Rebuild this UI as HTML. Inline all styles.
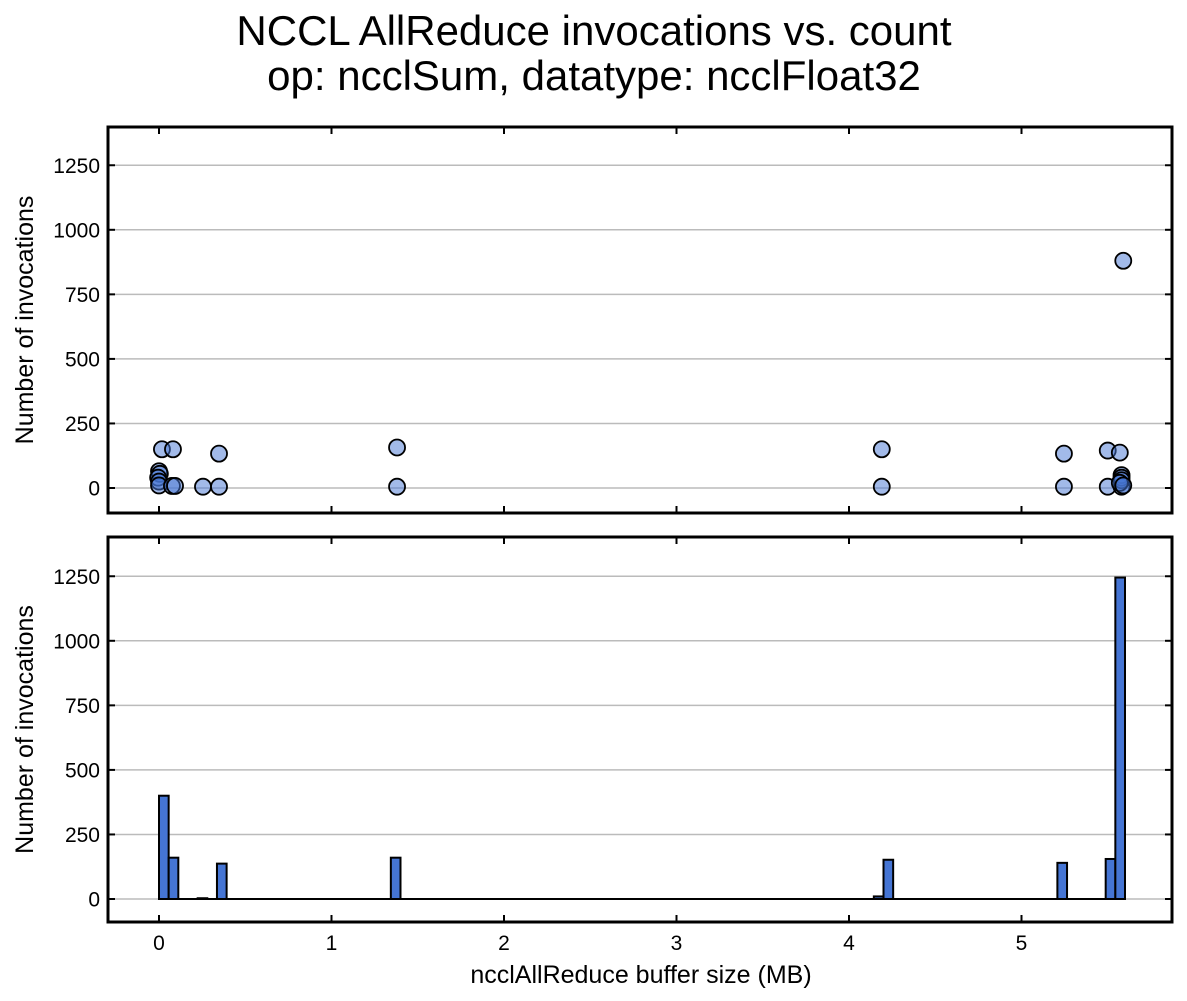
<!DOCTYPE html>
<html><head><meta charset="utf-8"><style>
body{margin:0;background:#fff;}
svg{display:block;font-family:"Liberation Sans",Arial,sans-serif;}
</style></head><body>
<svg id="c" width="1187" height="1001" viewBox="0 0 1187 1001">
<text x="594" y="45" font-size="42" text-anchor="middle">NCCL AllReduce invocations vs. count</text>
<text x="594" y="90" font-size="42" text-anchor="middle">op: ncclSum, datatype: ncclFloat32</text>
<g id="topPanel"></g>
<g id="botPanel"></g>
<text x="641" y="983" font-size="25" text-anchor="middle">ncclAllReduce buffer size (MB)</text>
</svg>
<script>
const xTicks=[0,1,2,3,4,5];
const yTicks=[0,250,500,750,1000,1250];
const scatterX=[0.017,0.081,0.348,0,0.005,-0.005,0,0,0.075,0.093,0.255,0.348,1.38,1.38,4.19,4.19,5.246,5.246,5.50,5.57,5.50,5.58,5.58,5.58,5.58,5.57,5.59,5.59];
const scatterY=[150,150,133,65,55,40,25,10,8,8,5,5,157,5,150,5,133,5,145,137,5,5,50,40,30,20,10,880];
const binWidth=0.056;
const binIndex=[0,1,4,6,24,74,75,93,98,99];
const binCount=[400,160,3,137,160,10,152,140,155,1245];
const NS="http://www.w3.org/2000/svg";
const LEFT=108,RIGHT=1172;
const xs=v=>159+v*172.5;
function mk(tag,attrs,parent){const e=document.createElementNS(NS,tag);for(const k in attrs)e.setAttribute(k,attrs[k]);parent.appendChild(e);return e;}
function panel(g,t0,b0,y0,name){
  const ys=v=>y0-v*0.2582;
  yTicks.forEach(t=>{
    const l=mk('line',{x1:LEFT,x2:RIGHT,y1:ys(t),y2:ys(t),stroke:'#bbb','stroke-width':1.5},g);
    
    
    const lab=mk('text',{x:LEFT-8,y:ys(t)+7.5,'font-size':21,'text-anchor':'end'},g);
    lab.textContent=t;
    
    
    mk('line',{x1:LEFT,x2:LEFT+7,y1:ys(t),y2:ys(t),stroke:'#000','stroke-width':2},g);
    mk('line',{x1:RIGHT,x2:RIGHT-7,y1:ys(t),y2:ys(t),stroke:'#000','stroke-width':2},g);
  });
  xTicks.forEach(t=>{
    mk('line',{x1:xs(t),x2:xs(t),y1:t0,y2:t0+7,stroke:'#000','stroke-width':2},g);
    mk('line',{x1:xs(t),x2:xs(t),y1:b0,y2:b0-7,stroke:'#000','stroke-width':2},g);
  });
  const yl=mk('text',{x:0,y:0,'font-size':25,'text-anchor':'middle',transform:`translate(33,${(t0+b0)/2}) rotate(-90)`},g);
  yl.textContent='Number of invocations';
  
  
  return ys;
}
const topG=document.getElementById('topPanel'),botG=document.getElementById('botPanel');
const ys1=panel(topG,127,513,488,'top');
scatterX.forEach((x,i)=>{
  const c=mk('circle',{cx:xs(x),cy:ys1(scatterY[i]),r:8,fill:'rgba(69,117,212,0.5)',stroke:'#000','stroke-width':1.8},topG);
  
  
});
mk('rect',{x:LEFT,y:127,width:RIGHT-LEFT,height:386,fill:'none',stroke:'#000','stroke-width':3},topG);
const ys2=panel(botG,537,922,899,'bottom');
const bw=binWidth*172.5;
mk('line',{x1:xs(0),x2:xs(100*binWidth),y1:ys2(0),y2:ys2(0),stroke:'#000','stroke-width':2},botG);
binIndex.forEach((b,i)=>{
  const x=xs(b*binWidth),h=binCount[i]*0.2582;
  const r=mk('rect',{x:x,y:ys2(0)-h,width:bw,height:h,fill:'#4575d4',stroke:'#000','stroke-width':2},botG);
  
  
});
xTicks.forEach(t=>{
  const lab=mk('text',{x:xs(t),y:950,'font-size':21,'text-anchor':'middle'},botG);
  lab.textContent=t;
  
  
});
mk('rect',{x:LEFT,y:537,width:RIGHT-LEFT,height:385,fill:'none',stroke:'#000','stroke-width':3},botG);
</script>
</body></html>
